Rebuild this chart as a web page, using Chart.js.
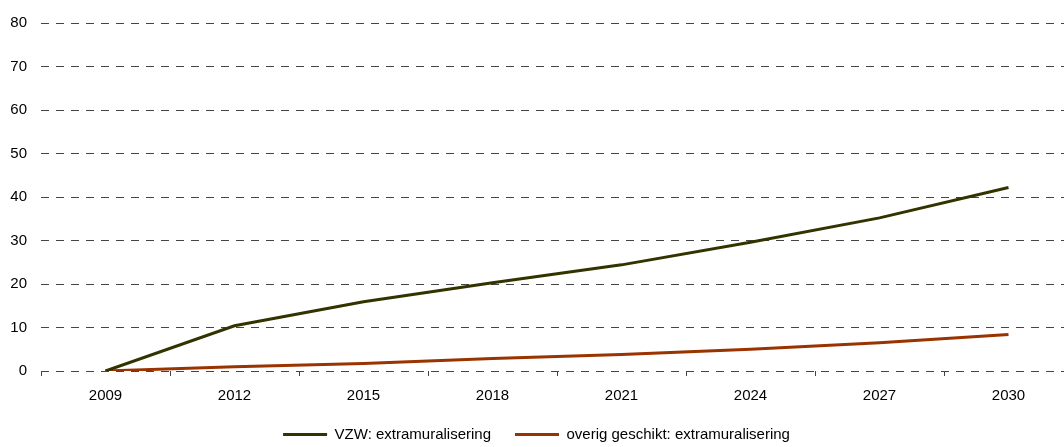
<!DOCTYPE html>
<html>
<head>
<meta charset="utf-8">
<script src="https://cdn.jsdelivr.net/npm/chart.js@4/dist/chart.umd.min.js"></script>
<style>
  html, body { margin: 0; padding: 0; background: #fff; overflow: hidden; }
  #wrap { width: 1064px; height: 447px; overflow: hidden; }
  #box { width: 1073px; height: 447px; }
</style>
</head>
<body>
<div id="wrap"><div id="box"><canvas id="chart"></canvas></div></div>
<script>
const years = ['2009', '2012', '2015', '2018', '2021', '2024', '2027', '2030'];
const vzw = [0, 10.4, 15.9, 20.3, 24.4, 29.6, 35.2, 42.2];
const overig = [0, 1.0, 1.7, 2.9, 3.8, 5.0, 6.5, 8.4];
const yTicks = [0, 10, 20, 30, 40, 50, 60, 70, 80];

const font = { family: "'Liberation Sans', Arial, sans-serif", size: 15 };

function renderChart() {
  const ctx = document.getElementById('chart').getContext('2d');
  new Chart(ctx, {
    type: 'line',
    data: {
      labels: years,
      datasets: [
        { label: 'VZW: extramuralisering', data: vzw, borderColor: '#333300', backgroundColor: '#333300', borderWidth: 3, pointRadius: 0, fill: false },
        { label: 'overig geschikt: extramuralisering', data: overig, borderColor: '#993300', backgroundColor: '#993300', borderWidth: 3, pointRadius: 0, fill: false },
      ]
    },
    options: {
      responsive: true,
      maintainAspectRatio: false,
      animation: false,
      layout: { padding: { left: 0, top: 21, right: 0, bottom: -5 } },
      plugins: {
        tooltip: { enabled: false },
        legend: {
          position: 'bottom',
          labels: {
            usePointStyle: true,
            pointStyle: 'line',
            pointStyleWidth: 44,
            padding: 24,
            color: '#000',
            font: font
          }
        }
      },
      scales: {
        x: {
          offset: true,
          border: { display: false },
          grid: { offset: true, drawOnChartArea: false, tickLength: 5, color: '#444' },
          ticks: { color: '#000', font: { ...font, lineHeight: 1 }, padding: 12, maxRotation: 0 },
          afterFit: axis => { axis.height = 32; }
        },
        y: {
          min: 0,
          max: 80,
          afterBuildTicks: axis => { axis.ticks = yTicks.map(v => ({ value: v })); },
          afterFit: axis => { axis.width = 41; },
          grid: { color: '#444', drawTicks: false, lineWidth: 1 },
          border: { display: false, dash: [8, 7] },
          ticks: { color: '#000', font: font, padding: 14 }
        }
      }
    }
  });
}

window.onload = renderChart;
</script>
</body>
</html>
